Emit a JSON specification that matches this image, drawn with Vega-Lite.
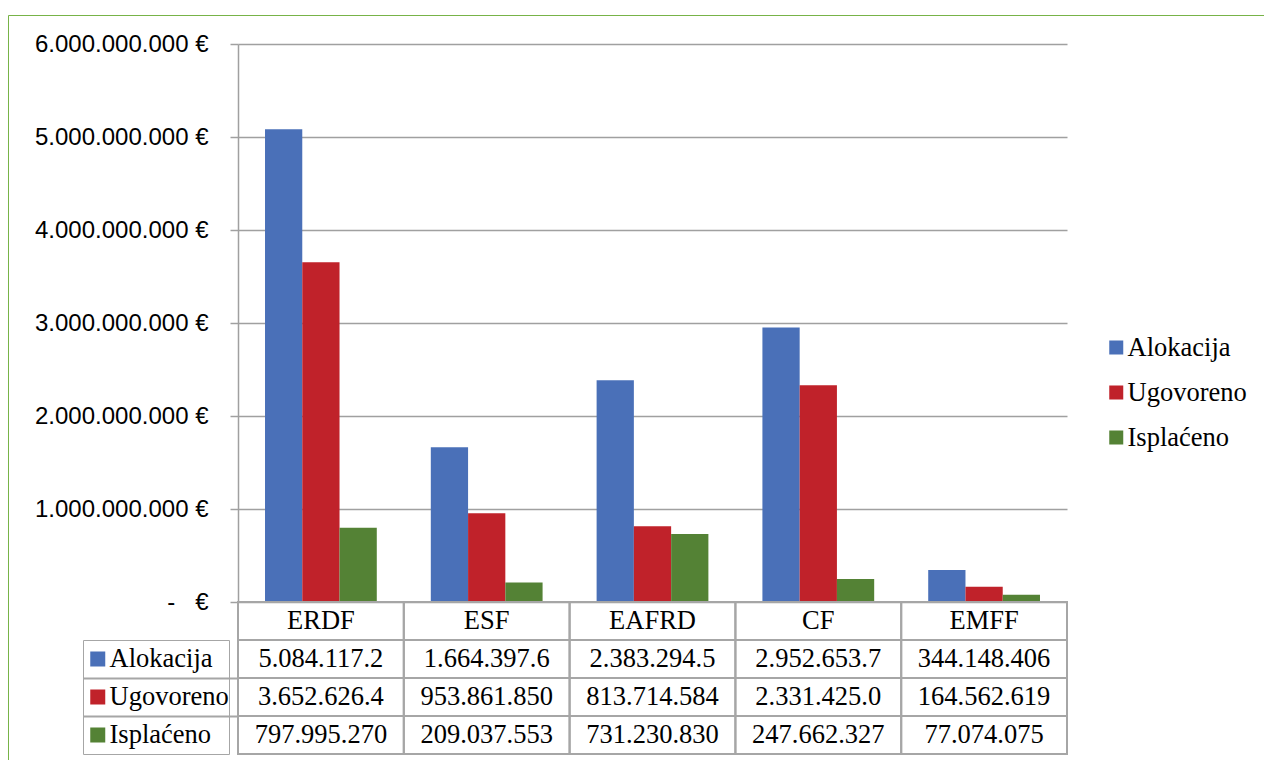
{
  "$schema": "https://vega.github.io/schema/vega-lite/v6.json",
  "background": "white",
  "padding": {"left": 7, "top": 14, "right": 0, "bottom": 0},
  "bounds": "flush",
  "spacing": 0,
  "datasets": {
    "funds": [
      {"fund": "ERDF", "series": "Alokacija", "value": 5084117200, "shown": "5.084.117.2"},
      {"fund": "ERDF", "series": "Ugovoreno", "value": 3652626400, "shown": "3.652.626.4"},
      {"fund": "ERDF", "series": "Isplaćeno", "value": 797995270, "shown": "797.995.270"},
      {"fund": "ESF", "series": "Alokacija", "value": 1664397600, "shown": "1.664.397.6"},
      {"fund": "ESF", "series": "Ugovoreno", "value": 953861850, "shown": "953.861.850"},
      {"fund": "ESF", "series": "Isplaćeno", "value": 209037553, "shown": "209.037.553"},
      {"fund": "EAFRD", "series": "Alokacija", "value": 2383294500, "shown": "2.383.294.5"},
      {"fund": "EAFRD", "series": "Ugovoreno", "value": 813714584, "shown": "813.714.584"},
      {"fund": "EAFRD", "series": "Isplaćeno", "value": 731230830, "shown": "731.230.830"},
      {"fund": "CF", "series": "Alokacija", "value": 2952653700, "shown": "2.952.653.7"},
      {"fund": "CF", "series": "Ugovoreno", "value": 2331425000, "shown": "2.331.425.0"},
      {"fund": "CF", "series": "Isplaćeno", "value": 247662327, "shown": "247.662.327"},
      {"fund": "EMFF", "series": "Alokacija", "value": 344148406, "shown": "344.148.406"},
      {"fund": "EMFF", "series": "Ugovoreno", "value": 164562619, "shown": "164.562.619"},
      {"fund": "EMFF", "series": "Isplaćeno", "value": 77074075, "shown": "77.074.075"}
    ]
  },
  "resolve": {
    "scale": {"color": "independent", "x": "independent", "y": "independent"},
    "legend": {"color": "independent"}
  },
  "vconcat": [
    {
      "width": 829,
      "height": 558,
      "data": {"name": "funds"},
      "mark": {"type": "bar", "strokeWidth": 0},
      "encoding": {
        "x": {
          "field": "fund", "type": "nominal",
          "sort": ["ERDF", "ESF", "EAFRD", "CF", "EMFF"],
          "scale": {"paddingInner": 0, "paddingOuter": 0},
          "axis": null
        },
        "xOffset": {
          "field": "series", "type": "nominal",
          "sort": ["Alokacija", "Ugovoreno", "Isplaćeno"],
          "scale": {"paddingInner": 0, "paddingOuter": 0.725}
        },
        "y": {
          "field": "value", "type": "quantitative",
          "scale": {"domain": [0, 6000000000], "nice": false},
          "axis": {
            "values": [0, 1000000000, 2000000000, 3000000000, 4000000000, 5000000000, 6000000000],
            "labelExpr": "datum.value == 0 ? '-\u00a0\u00a0\u00a0€' : replace(replace(replace(format(datum.value, ','), ',', '.'), ',', '.'), ',', '.') + ' €'",
            "labelFont": "Liberation Sans",
            "labelFontSize": 24,
            "labelColor": "black",
            "labelPadding": 22,
            "tickSize": 8,
            "tickColor": "#a0a0a0",
            "tickWidth": 1.5,
            "domainColor": "#a0a0a0",
            "domainWidth": 1.5,
            "gridColor": "#a0a0a0",
            "gridWidth": 1.5,
            "title": null
          }
        },
        "color": {
          "field": "series", "type": "nominal",
          "sort": ["Alokacija", "Ugovoreno", "Isplaćeno"],
          "scale": {"domain": ["Alokacija", "Ugovoreno", "Isplaćeno"], "range": ["#4a70b8", "#c0222a", "#548235"]},
          "legend": {
            "orient": "none",
            "legendX": 865,
            "legendY": 281,
            "title": null,
            "labelFont": "Liberation Serif",
            "labelFontSize": 26.5,
            "labelColor": "black",
            "labelOffset": -2,
            "symbolType": "square",
            "symbolSize": 196,
            "symbolStrokeWidth": 0,
            "symbolOpacity": 1,
            "clipHeight": 45,
            "rowPadding": 0,
            "padding": 0
          }
        },
        "strokeDash": {
          "datum": "frame", "type": "nominal",
          "legend": {
            "orient": "none",
            "legendX": -230,
            "legendY": -29,
            "title": null,
            "labelFontSize": 1,
            "labelOffset": 0,
            "labelExpr": "''",
            "symbolType": "square",
            "symbolSize": 1592644,
            "symbolOpacity": 0,
            "symbolStrokeWidth": 0,
            "clipHeight": 748,
            "rowPadding": 0,
            "padding": 0,
            "strokeColor": "#77b347"
          }
        }
      }
    },
    {
      "width": 829,
      "height": 152,
      "data": {"name": "funds"},
      "encoding": {
        "x": {
          "field": "fund", "type": "nominal",
          "sort": ["ERDF", "ESF", "EAFRD", "CF", "EMFF"],
          "scale": {"paddingInner": 0, "paddingOuter": 0},
          "axis": null
        }
      },
      "layer": [
        {
          "mark": {"type": "rect", "opacity": 0},
          "encoding": {
            "y": {
              "field": "series", "type": "nominal",
              "scale": {"domain": ["hdr", "Alokacija", "Ugovoreno", "Isplaćeno"], "paddingInner": 0, "paddingOuter": 0},
              "axis": {
                "values": ["Ugovoreno", "Isplaćeno"],
                "bandPosition": 0,
                "labels": false,
                "domain": false,
                "grid": false,
                "tickSize": 155,
                "tickColor": "#a6a6a6",
                "tickWidth": 2,
                "title": null
              }
            },
            "color": {
              "field": "series", "type": "nominal",
              "scale": {"domain": ["Alokacija", "Ugovoreno", "Isplaćeno"], "range": ["#4a70b8", "#c0222a", "#548235"]},
              "legend": {
                "orient": "none",
                "legendX": -155,
                "legendY": 38,
                "title": null,
                "labelFont": "Liberation Serif",
                "labelFontSize": 26.5,
                "labelColor": "black",
                "labelOffset": -1.5,
                "symbolType": "square",
                "symbolSize": 225,
                "symbolStrokeWidth": 0,
                "symbolOpacity": 1,
                "symbolOffset": 1.5,
                "clipHeight": 38,
                "rowPadding": 0,
                "padding": 0,
                "strokeColor": "#a6a6a6"
              }
            }
          }
        },
        {
          "mark": {"type": "rect", "fillOpacity": 0, "stroke": "#a6a6a6", "strokeWidth": 2},
          "encoding": {
            "y": {"field": "series", "type": "nominal"}
          }
        },
        {
          "transform": [{"filter": "datum.series == 'Alokacija'"}],
          "mark": {"type": "rect", "fillOpacity": 0, "stroke": "#a6a6a6", "strokeWidth": 2},
          "encoding": {
            "y": {"datum": "hdr"}
          }
        },
        {
          "mark": {"type": "text", "font": "Liberation Serif", "fontSize": 26.5, "color": "black"},
          "encoding": {
            "y": {"field": "series", "type": "nominal"},
            "text": {"field": "shown"}
          }
        },
        {
          "transform": [{"filter": "datum.series == 'Alokacija'"}],
          "mark": {"type": "text", "font": "Liberation Serif", "fontSize": 26.5, "color": "black"},
          "encoding": {
            "y": {"datum": "hdr"},
            "text": {"field": "fund"}
          }
        }
      ]
    }
  ],
  "config": {
    "view": {"stroke": null}
  }
}
